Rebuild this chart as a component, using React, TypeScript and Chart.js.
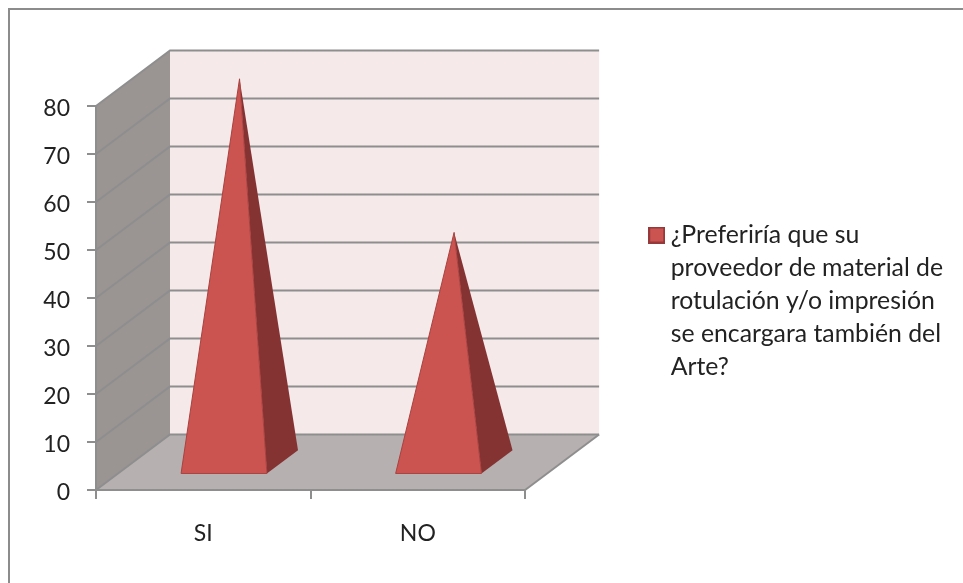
import { useEffect, useRef } from "react";
import { Chart, registerables } from "chart.js";

Chart.register(...registerables);

const categories = ["SI", "NO"];
const answers = [80, 48];
const axisMax = 80;
const axisStep = 10;
const seriesLabel = [
  "¿Preferiría que su",
  "proveedor de material de",
  "rotulación y/o impresión",
  "se encargara también del",
  "Arte?",
];

// Oblique projection of the depth axis, in pixels
const DEPTH_X = 74;
const DEPTH_Y = -55.5;
// Fractions of the depth occupied by a pyramid's square base
const BASE_FRONT = 0.28;
const BASE_BACK = 0.7;

const COLORS = {
  frame: "#8c8c8c",
  sideWall: "#9a9493",
  floor: "#b7b0b0",
  backWall: "#f5e9e9",
  grid: "#8e8e8e",
  front: "#cb5451",
  side: "#853232",
  edge: "#a8423f",
  text: "#222222",
};

function polygon(ctx: CanvasRenderingContext2D, pts: number[][], fill: string) {
  ctx.beginPath();
  pts.forEach(([x, y], i) => (i ? ctx.lineTo(x, y) : ctx.moveTo(x, y)));
  ctx.closePath();
  ctx.fillStyle = fill;
  ctx.fill();
}

// Frame, walls, floor and the gridlines wrapped around them
const scenePlugin = {
  id: "scene",
  beforeDraw(chart: any) {
    const { ctx, chartArea: a, scales } = chart;
    const y = scales.y;
    const { left: l, right: r, top: t, bottom: b } = a;
    ctx.save();
    ctx.strokeStyle = COLORS.frame;
    ctx.lineWidth = 2;
    ctx.beginPath();
    ctx.moveTo(9, chart.height);
    ctx.lineTo(9, 9);
    ctx.lineTo(chart.width, 9);
    ctx.stroke();

    polygon(ctx, [[l + DEPTH_X, t + DEPTH_Y], [r + DEPTH_X, t + DEPTH_Y], [r + DEPTH_X, b + DEPTH_Y], [l + DEPTH_X, b + DEPTH_Y]], COLORS.backWall);
    polygon(ctx, [[l, t], [l + DEPTH_X, t + DEPTH_Y], [l + DEPTH_X, b + DEPTH_Y], [l, b]], COLORS.sideWall);
    polygon(ctx, [[l, b], [l + DEPTH_X, b + DEPTH_Y], [r + DEPTH_X, b + DEPTH_Y], [r, b]], COLORS.floor);

    ctx.strokeStyle = COLORS.grid;
    ctx.lineWidth = 2;
    y.ticks.forEach((tick: any) => {
      const py = y.getPixelForValue(tick.value);
      ctx.beginPath();
      ctx.moveTo(l, py);
      ctx.lineTo(l + DEPTH_X, py + DEPTH_Y);
      ctx.lineTo(r + DEPTH_X, py + DEPTH_Y);
      ctx.stroke();
    });
    ctx.beginPath();
    ctx.moveTo(r, b);
    ctx.lineTo(r + DEPTH_X, b + DEPTH_Y);
    ctx.stroke();
    ctx.restore();
  },
  // Each bar element is rendered as a pyramid standing on the floor
  beforeDatasetDraw(chart: any, args: any) {
    const { ctx } = chart;
    const bars = chart.getDatasetMeta(args.index).data;
    ctx.save();
    bars.forEach((bar: any) => {
      const half = bar.width / 2;
      const mid = (BASE_FRONT + BASE_BACK) / 2;
      const fl = [bar.x - half + BASE_FRONT * DEPTH_X, bar.base + BASE_FRONT * DEPTH_Y];
      const fr = [bar.x + half + BASE_FRONT * DEPTH_X, bar.base + BASE_FRONT * DEPTH_Y];
      const br = [bar.x + half + BASE_BACK * DEPTH_X, bar.base + BASE_BACK * DEPTH_Y];
      const apex = [bar.x + mid * DEPTH_X, bar.y + mid * DEPTH_Y];
      polygon(ctx, [fr, br, apex], COLORS.side);
      polygon(ctx, [fl, fr, apex], COLORS.front);
      ctx.strokeStyle = COLORS.edge;
      ctx.lineWidth = 1;
      ctx.beginPath();
      ctx.moveTo(apex[0], apex[1]);
      ctx.lineTo(fl[0], fl[1]);
      ctx.lineTo(fr[0], fr[1]);
      ctx.lineTo(apex[0], apex[1]);
      ctx.stroke();
    });
    ctx.restore();
    return false;
  },
};

function legendSwatch() {
  const c = document.createElement("canvas");
  c.width = 17;
  c.height = 17;
  const g = c.getContext("2d")!;
  g.fillStyle = COLORS.front;
  g.fillRect(1, 1, 15, 15);
  g.strokeStyle = "#96393a";
  g.lineWidth = 2;
  g.strokeRect(1, 1, 15, 15);
  return c;
}

export default function App() {
  const ref = useRef<HTMLCanvasElement>(null);

  useEffect(() => {
    document.body.style.margin = "0";
    document.body.style.background = "#ffffff";
    const tickFont = { family: "Lato", size: 23 };
    const chart = new Chart(ref.current!, {
      type: "bar",
      data: {
        labels: categories,
        datasets: [
          {
            label: seriesLabel as any,
            data: answers,
            backgroundColor: COLORS.front,
            barPercentage: 0.4,
            categoryPercentage: 1,
          },
        ],
      },
      options: {
        animation: false,
        responsive: false,
        events: [],
        layout: { padding: { top: 106, left: 0, bottom: 0, right: 12 } },
        scales: {
          x: {
            grid: { display: true, drawOnChartArea: false, color: COLORS.grid, lineWidth: 2, tickLength: 9 },
            border: { color: COLORS.grid, width: 2 },
            ticks: { font: tickFont, color: COLORS.text, padding: 21, maxRotation: 0 },
            afterFit: (s: any) => {
              s.height = 93;
            },
          },
          y: {
            min: 0,
            max: axisMax,
            grid: { display: true, drawOnChartArea: false, color: COLORS.grid, lineWidth: 2, tickLength: 9 },
            border: { color: COLORS.grid, width: 2 },
            ticks: { stepSize: axisStep, font: tickFont, color: COLORS.text, padding: 17, labelOffset: 3 },
            afterFit: (s: any) => {
              s.width = 96;
            },
          },
          // Empty axis that keeps a gutter between the plot and the legend
          gutter: {
            type: "linear",
            axis: "y",
            position: "right",
            grid: { display: false },
            border: { display: false },
            ticks: { display: false },
            afterFit: (s: any) => {
              s.width = 104;
            },
          },
        },
        plugins: {
          tooltip: { enabled: false },
          title: { display: false },
          legend: {
            display: true,
            position: "right",
            fullSize: false,
            maxWidth: 360,
            // Blank title block nudges the centred entry downward
            title: { display: true, text: "", font: { size: 1 }, padding: { top: 13, bottom: 0 } },
            labels: {
              usePointStyle: true,
              pointStyle: legendSwatch(),
              pointStyleWidth: 3.2,
              boxHeight: 16,
              padding: 26,
              color: COLORS.text,
              font: { family: "Lato", size: 24.8, lineHeight: 33 / 24.8 },
            },
          },
        },
      } as any,
      plugins: [scenePlugin],
    });
    return () => chart.destroy();
  }, []);

  return <canvas ref={ref} width={963} height={583} style={{ display: "block" }} />;
}
